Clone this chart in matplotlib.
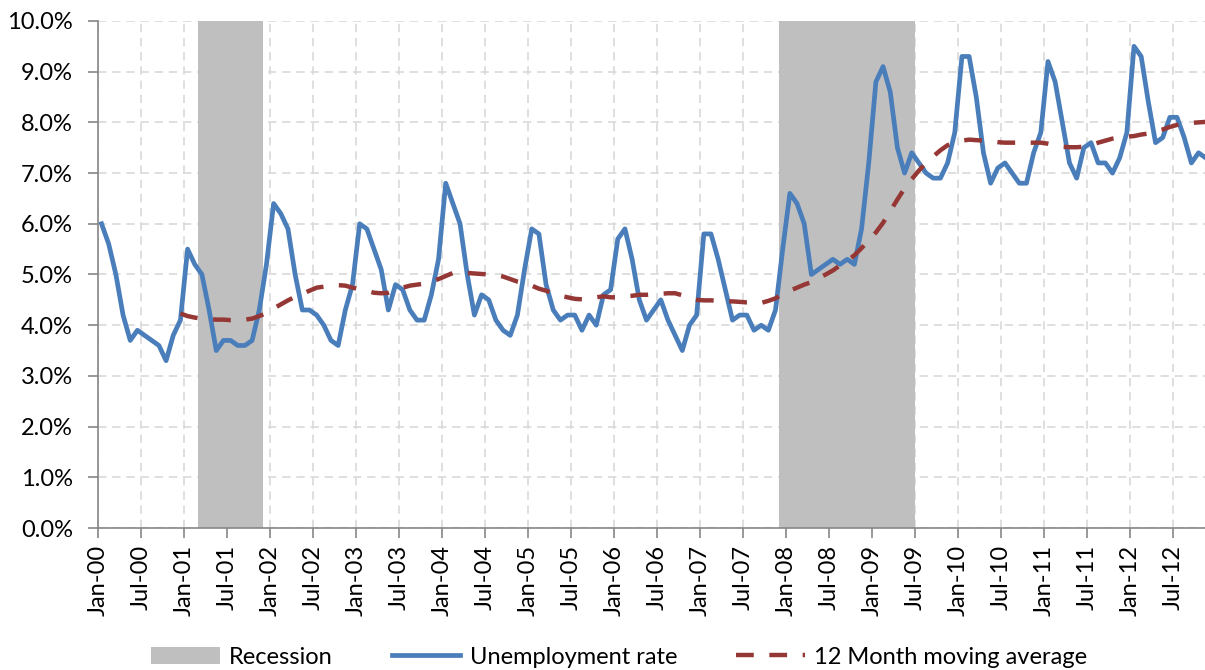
import matplotlib.pyplot as plt
import numpy as np
import pandas as pd
from matplotlib.lines import Line2D
from matplotlib.patches import Patch
from matplotlib.ticker import FuncFormatter

# monthly observations, Jan-2000 .. Nov-2012 (percent)
months = pd.date_range("2000-01-01", "2012-11-01", freq="MS")

unemployment = [
    6.0, 5.6, 5.0, 4.2, 3.7, 3.9, 3.8, 3.7, 3.6, 3.3, 3.8, 4.1,   # 2000
    5.5, 5.2, 5.0, 4.3, 3.5, 3.7, 3.7, 3.6, 3.6, 3.7, 4.3, 5.2,   # 2001
    6.4, 6.2, 5.9, 5.0, 4.3, 4.3, 4.2, 4.0, 3.7, 3.6, 4.3, 4.8,   # 2002
    6.0, 5.9, 5.5, 5.1, 4.3, 4.8, 4.7, 4.3, 4.1, 4.1, 4.6, 5.3,   # 2003
    6.8, 6.4, 6.0, 5.0, 4.2, 4.6, 4.5, 4.1, 3.9, 3.8, 4.2, 5.1,   # 2004
    5.9, 5.8, 4.8, 4.3, 4.1, 4.2, 4.2, 3.9, 4.2, 4.0, 4.6, 4.7,   # 2005
    5.7, 5.9, 5.3, 4.5, 4.1, 4.3, 4.5, 4.1, 3.8, 3.5, 4.0, 4.2,   # 2006
    5.8, 5.8, 5.3, 4.7, 4.1, 4.2, 4.2, 3.9, 4.0, 3.9, 4.3, 5.5,   # 2007
    6.6, 6.4, 6.0, 5.0, 5.1, 5.2, 5.3, 5.2, 5.3, 5.2, 5.9, 7.2,   # 2008
    8.8, 9.1, 8.6, 7.5, 7.0, 7.4, 7.2, 7.0, 6.9, 6.9, 7.2, 7.8,   # 2009
    9.3, 9.3, 8.5, 7.4, 6.8, 7.1, 7.2, 7.0, 6.8, 6.8, 7.4, 7.8,   # 2010
    9.2, 8.8, 8.0, 7.2, 6.9, 7.5, 7.6, 7.2, 7.2, 7.0, 7.3, 7.8,   # 2011
    9.5, 9.3, 8.4, 7.6, 7.7, 8.1, 8.1, 7.7, 7.2, 7.4, 7.3,        # 2012
]

# 12 month moving average, first value at Dec-2000
ma_start = "2000-12"
moving_avg = [
    4.23,
    4.18, 4.15, 4.13, 4.12, 4.11, 4.11, 4.10, 4.10, 4.11, 4.13, 4.18, 4.24,
    4.33, 4.41, 4.49, 4.56, 4.62, 4.68, 4.74, 4.76, 4.79, 4.79, 4.78, 4.74,
    4.71, 4.68, 4.64, 4.63, 4.64, 4.69, 4.74, 4.78, 4.80, 4.82, 4.86, 4.91,
    4.97, 5.03, 5.04, 5.03, 5.02, 5.01, 5.00, 4.99, 4.96, 4.91, 4.86, 4.83,
    4.78, 4.72, 4.68, 4.62, 4.58, 4.55, 4.52, 4.51, 4.53, 4.55, 4.57, 4.55,
    4.55, 4.57, 4.58, 4.60, 4.60, 4.61, 4.62, 4.63, 4.63, 4.59, 4.53, 4.50,
    4.49, 4.49, 4.48, 4.47, 4.47, 4.46, 4.45, 4.45, 4.44, 4.48, 4.53, 4.62,
    4.68, 4.74, 4.80, 4.85, 4.93, 5.00, 5.08, 5.18, 5.27, 5.38, 5.52, 5.68,
    5.83, 6.02, 6.25, 6.48, 6.70, 6.88, 7.05, 7.20, 7.33, 7.45, 7.55, 7.60,
    7.64, 7.66, 7.65, 7.64, 7.63, 7.61, 7.60, 7.60, 7.60, 7.60, 7.60, 7.60,
    7.58, 7.55, 7.52, 7.51, 7.51, 7.52, 7.55, 7.60, 7.64, 7.68, 7.70, 7.72,
    7.73, 7.76, 7.78, 7.83, 7.86, 7.91, 7.95, 7.98, 7.99, 8.00, 8.01,
]

recession_start = ["2001-03", "2007-12"]
recession_end = ["2001-11", "2009-06"]

BLUE = "#4a7ebb"
RED = "#953735"
GREY = "#bfbfbf"
GRID = "#d9d9d9"
AXIS = "#868686"
FS = 17

plt.rcParams["font.family"] = ["Lato", "DejaVu Sans"]

fig, ax = plt.subplots(figsize=(12.05, 6.70), dpi=100)
fig.subplots_adjust(left=0.0813, right=1.0, top=0.9687, bottom=0.2119)

idx = {m.strftime("%Y-%m"): i for i, m in enumerate(months)}
x = np.arange(len(months)) + 0.5

for s, e in zip(recession_start, recession_end):
    ax.axvspan(idx[s], idx[e] + 1, color=GREY, lw=0, zorder=1)

ax.plot(x, unemployment, color=BLUE, lw=3.4, zorder=3,
        solid_joinstyle="round")
k = idx[ma_start]
ax.plot(x[k:k + len(moving_avg)], moving_avg, color=RED, lw=3.2,
        dashes=(4, 3.5), zorder=4)

ax.set_xlim(0, 154.4)
ax.set_ylim(0, 10)
ax.set_yticks(np.arange(0, 11, 1))
ax.yaxis.set_major_formatter(FuncFormatter(lambda v, _: f"{v:.1f}%"))
ticks = np.arange(0, len(months), 6)
ax.set_xticks(ticks)
ax.set_xticklabels([months[i].strftime("%b-%y") for i in ticks], rotation=90)

ax.set_axisbelow(True)
ax.grid(True, color=GRID, lw=1.2, ls=(0, (5, 3.5)))
for side in ("top", "right"):
    ax.spines[side].set_visible(False)
for side in ("left", "bottom"):
    ax.spines[side].set_color(AXIS)
    ax.spines[side].set_linewidth(1.2)
ax.tick_params(axis="x", length=7, width=1.2, color=AXIS, labelsize=FS, pad=5)
ax.tick_params(axis="y", length=7, width=1.2, color=AXIS, labelsize=FS, pad=11)

handles = [
    Patch(facecolor=GREY, edgecolor="none"),
    Line2D([], [], color=BLUE, lw=3.4),
    Line2D([], [], color=RED, lw=3.2, dashes=(4, 3.5)),
]
labels = ["Recession", "Unemployment rate", "12 Month moving average"]
fig.legend(handles, labels, loc="center", bbox_to_anchor=(0.514, 1 - 657 / 670),
           ncol=3, frameon=False, fontsize=FS, handlelength=2.9,
           handletextpad=0.4, columnspacing=2.5)

fig.savefig("out.png", dpi=100)
